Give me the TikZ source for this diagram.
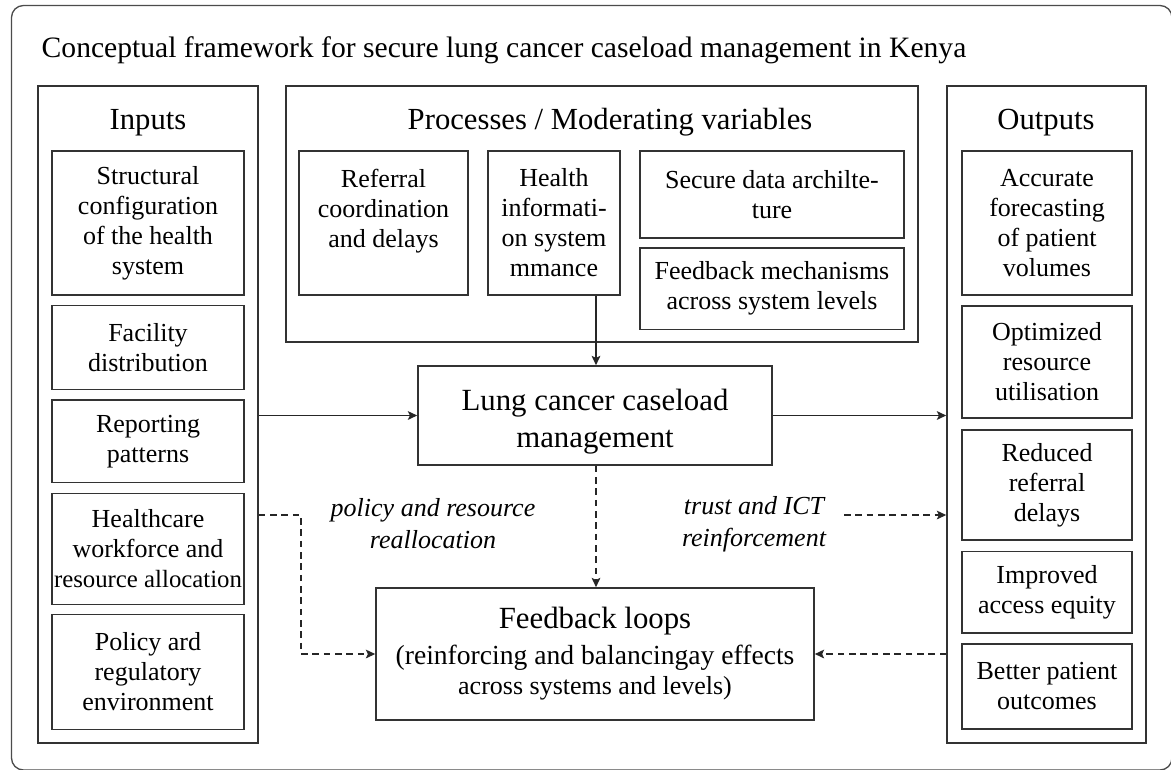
\documentclass[tikz,border=0pt]{standalone}
\usepackage{fontspec}
\setmainfont{Liberation Serif}
\usetikzlibrary{arrows.meta}
\tikzset{
  bx/.style={draw=black!80, line width=1.2pt, inner sep=0pt, align=center, font=\fontsize{19.5}{22.5}\selectfont},
  rect/.style 2 args={minimum width=#1*0.75pt, minimum height=#2*0.75pt},
  hd/.style={font=\fontsize{23}{27}\selectfont, anchor=base},
  conn/.style={draw=black!85, line width=1.1pt},
  arr/.style={conn, -{Stealth[length=7pt,width=6.5pt,inset=1.5pt]}},
  dsh/.style={conn, dash pattern=on 5pt off 3.5pt},
  dsharr/.style={dsh, -{Stealth[length=7pt,width=6.5pt,inset=1.5pt]}},
  lbl/.style={font=\fontsize{19.5}{24}\selectfont\itshape, align=center},
}
\begin{document}
\begin{tikzpicture}[x=0.75pt,y=-0.75pt]
\useasboundingbox (0,0) rectangle (1171,769);
\fill[white] (0,0) rectangle (1171,769);
\draw[black!70, line width=1pt, rounded corners=9pt] (11.5,5.5) rectangle (1172,770);

\node[anchor=base west, font=\fontsize{22.2}{26}\selectfont] (title) at (37,57)
  {Conceptual framework for secure lung cancer caseload management in Kenya};

% containers
\node[bx, rect={220}{657}] (inputs) at (148,414.5) {};
\node[bx, rect={632}{256}] (proc) at (602,214) {};
\node[bx, rect={199}{657}] (outputs) at (1046.5,414.5) {};

\node[hd] (inh) at (148,129) {Inputs};
\node[hd] (prh) at (610,129) {Processes / Moderating variables};
\node[hd] (ouh) at (1046,129) {Outputs};

% inputs
\node[bx, rect={192}{144}] (s1) at (148,223) {Structural\\configuration\\of the health\\system};
\node[bx, rect={192}{84}] (s2) at (148,347.5) {Facility\\distribution};
\node[bx, rect={192}{82.5}] (s3) at (148,441.25) {Reporting\\patterns};
\node[bx, rect={192}{111}] (s4) at (148,549) {Healthcare\\workforce and\\\makebox[0pt]{\fontsize{18.6}{22.5}\selectfont resource allocation}};
\node[bx, rect={192}{115}] (s5) at (148,672) {Policy ard\\regulatory\\environment};

% processes
\node[bx, rect={169}{144}] (ref) at (383.5,223) {Referral\\coordination\\and delays\\\mbox{}};
\node[bx, rect={132}{144}] (hi) at (554,223) {Health\\informati-\\on system\\mmance};
\node[bx, rect={264}{87}] (sd) at (772,194.5) {Secure data archilte-\\ture};
\node[bx, rect={264}{81.5}] (fm) at (772,288.75) {Feedback mechanisms\\across system levels};

% outputs
\node[bx, rect={170}{144}] (o1) at (1047,223) {Accurate\\forecasting\\of patient\\volumes};
\node[bx, rect={170}{112}] (o2) at (1047,362) {Optimized\\resource\\utilisation};
\node[bx, rect={170}{110}] (o3) at (1047,485) {Reduced\\referral\\delays};
\node[bx, rect={170}{81.5}] (o4) at (1047,592.25) {Improved\\access equity};
\node[bx, rect={170}{85}] (o5) at (1047,686.5) {Better patient\\outcomes};

% central
\node[bx, rect={354}{99}, font=\fontsize{23.1}{27.75}\selectfont] (lung) at (595,415.5) {\rule{0pt}{24.5pt}Lung cancer caseload\\management};
\node[bx, rect={438}{132}] (fb) at (595,654) {\fontsize{23.1}{27}\selectfont Feedback loops\\[4.5pt]\fontsize{20.7}{25}\selectfont (reinforcing and balancingay effects\\across systems and levels)};

\node[lbl] (pl) at (433,524) {policy and resource\\reallocation};
\node[lbl] (tl) at (754,524) {trust and ICT\\reinforcement};

% connectors
\coordinate (hx) at (596,0);
\coordinate (lb) at (301,515);
\coordinate (ts) at (844,515);

\draw[arr] (hi.south -| hx) -- (lung.north -| hx);
\draw[arr] (inputs.east |- lung.west) -- (lung.west);
\draw[arr] (lung.east) -- (lung.east -| outputs.west);
\draw[dsharr] (lung.south -| hx) -- (fb.north -| hx);
\draw[dsharr] (lb -| inputs.east) -- (lb) |- (fb.west);
\draw[dsharr] (ts) -- (ts -| outputs.west);
\draw[dsharr] (outputs.west |- fb.east) -- (fb.east);
\end{tikzpicture}
\end{document}
